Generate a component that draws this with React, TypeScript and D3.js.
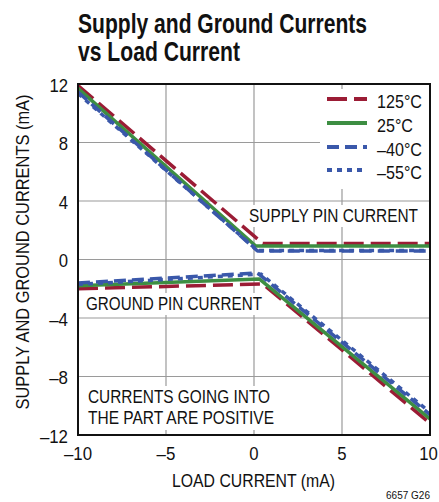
import React from 'react'
import * as d3 from 'd3'

// 温度系列
const temps = ['125°C', '25°C', '–40°C', '–55°C']
const colors = ['#9b1c35', '#3d8e42', '#3a58aa', '#3a58aa']
const dashes = ['20,7', '', '12,6', '5,5']

// 电源引脚电流 (mA) 与负载电流
const supplyX = [
  [-10, 0.5, 10],
  [-10, 0.1, 10],
  [-10, 0.2, 10],
  [-10, 0.2, 10],
]
const supplyY = [
  [11.9, 1.1, 1.1],
  [11.7, 0.92, 0.92],
  [11.45, 0.58, 0.58],
  [11.35, 0.62, 0.62],
]

// 接地引脚电流
const groundX = [
  [-10, 0.5, 10],
  [-10, 0.3, 10],
  [-10, 0.2, 10],
  [-10, 0.4, 10],
]
const groundY = [
  [-2.0, -1.67, -11.2],
  [-1.8, -1.33, -10.9],
  [-1.6, -0.92, -10.6],
  [-1.7, -1.0, -10.45],
]

const xTicks = [-10, -5, 0, 5, 10]
const yTicks = [-12, -8, -4, 0, 4, 8, 12]

const W = 439
const H = 502
const margin = { top: 84, right: 9, bottom: 67, left: 78 }
const FONT = '"Liberation Sans", Arial, sans-serif'

// 压缩字体的文本
const T: React.FC<{ x: number; y: number; w: number; size: number; bold?: boolean; anchor?: string; transform?: string; children: React.ReactNode }> =
  ({ x, y, w, size, bold, anchor, transform, children }) => (
    <text x={x} y={y} fontSize={size} fontWeight={bold ? 'bold' : 'normal'} textAnchor={anchor ?? 'start'}
      textLength={w} lengthAdjust="spacingAndGlyphs" fill="#111" transform={transform}>
      {children}
    </text>
  )

const fmt = (t: number) => (t < 0 ? '–' + Math.abs(t) : String(t))
// 刻度文字宽度（窄体）
const tickW = (t: number) => String(Math.abs(t)).length * 9.3 + (t < 0 ? 9.5 : 0)

export default function App() {
  const x = d3.scaleLinear().domain([-10, 10]).range([margin.left, W - margin.right])
  const y = d3.scaleLinear().domain([-12, 12]).range([H - margin.bottom, margin.top])

  const line = d3.line<[number, number]>()
    .x(d => x(d[0]))
    .y(d => y(d[1]))

  const toPts = (xs: number[], ys: number[]) => xs.map((v, i) => [v, ys[i]] as [number, number])

  const left = x(-10)
  const right = x(10)
  const top = y(12)
  const bottom = y(-12)

  // 图例
  const legX = 320
  const legRows = [99, 123, 147, 170]

  return (
    <svg width={W} height={H} style={{ position: 'absolute', left: 0, top: 0 }} fontFamily={FONT}>
      <rect width={W} height={H} fill="#fff" />

      {/* 标题 */}
      <T x={78} y={33} w={289} size={27} bold>Supply and Ground Currents</T>
      <T x={78} y={61} w={162} size={27} bold>vs Load Current</T>

      {/* 网格 */}
      {xTicks.slice(1, -1).map(t => (
        <line key={'gx' + t} x1={x(t)} x2={x(t)} y1={top} y2={bottom} stroke="#9a9a9a" strokeWidth={1.2} />
      ))}
      {yTicks.slice(1, -1).map(t => (
        <line key={'gy' + t} x1={left} x2={right} y1={y(t)} y2={y(t)} stroke="#9a9a9a" strokeWidth={1.2} />
      ))}

      {/* 图例背景 */}
      <rect x={legX} y={top + 5} width={right - legX} height={100} fill="#fff" />

      {/* 标注文字 */}
      <rect x={246} y={205} width={176} height={22} fill="#fff" />
      <T x={249} y={222} w={169} size={18}>SUPPLY PIN CURRENT</T>
      <rect x={83} y={293} width={183} height={22} fill="#fff" />
      <T x={86} y={310} w={176} size={18}>GROUND PIN CURRENT</T>
      <rect x={85} y={386} width={193} height={44} fill="#fff" />
      <T x={88} y={403} w={182} size={18}>CURRENTS GOING INTO</T>
      <T x={88} y={424} w={186} size={18}>THE PART ARE POSITIVE</T>

      {/* 曲线 */}
      {temps.map((t, i) => (
        <g key={t}>
          <path d={line(toPts(supplyX[i], supplyY[i])) ?? ''} fill="none" stroke={colors[i]}
            strokeWidth={3.5} strokeDasharray={dashes[i]} strokeLinejoin="round" />
          <path d={line(toPts(groundX[i], groundY[i])) ?? ''} fill="none" stroke={colors[i]}
            strokeWidth={3.5} strokeDasharray={dashes[i]} strokeLinejoin="round" />
        </g>
      ))}

      {/* 图例 */}
      {temps.map((t, i) => (
        <g key={'leg' + t}>
          <line x1={327} x2={367} y1={legRows[i]} y2={legRows[i]} stroke={colors[i]}
            strokeWidth={4} strokeDasharray={dashes[i]} />
          <T x={377} y={legRows[i] + 9} w={i === 1 ? 36 : 45} size={19}>{t}</T>
        </g>
      ))}

      {/* 边框 */}
      <rect x={left} y={top} width={right - left} height={bottom - top} fill="none" stroke="#111" strokeWidth={2} />

      {/* 坐标轴刻度 */}
      {yTicks.map(t => (
        <T key={'yt' + t} x={left - 10} y={y(t) + 7.5} w={tickW(t)} size={19} anchor="end">
          {fmt(t)}
        </T>
      ))}
      {xTicks.map(t => (
        <T key={'xt' + t} x={t === 10 ? x(t) - 1.5 : x(t)} y={bottom + 25} w={tickW(t)} size={19} anchor="middle">
          {fmt(t)}
        </T>
      ))}

      {/* 轴标题 */}
      <T x={253.5} y={487} w={163} size={18} anchor="middle">LOAD CURRENT (mA)</T>
      <T x={0} y={0} w={315} size={18} anchor="middle" transform={`translate(29,252) rotate(-90)`}>
        SUPPLY AND GROUND CURRENTS (mA)
      </T>

      <text x={W - 9} y={H - 3} fontSize={10} textAnchor="end" fill="#111">6657 G26</text>
    </svg>
  )
}
